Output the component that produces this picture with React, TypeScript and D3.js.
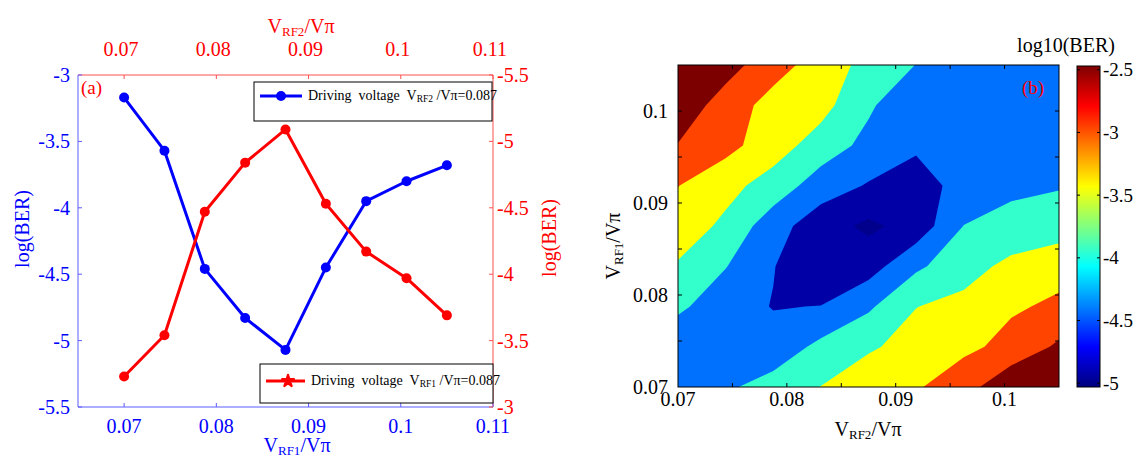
import React from "react";
import * as d3 from "d3";

const W = 1134;
const H = 459;
const FONT = "'Liberation Serif', 'DejaVu Serif', 'Times New Roman', serif";

// ---- (a) BER versus driving voltage ----
const sweepV = [0.07, 0.074375, 0.07875, 0.083125, 0.0875, 0.091875, 0.09625, 0.100625, 0.105];
// sweep of V_RF1 with V_RF2/Vπ = 0.087 (blue, bottom + left axes)
const berVsRf1 = [-3.17, -3.57, -4.46, -4.83, -5.07, -4.45, -3.95, -3.8, -3.68];
// sweep of V_RF2 with V_RF1/Vπ = 0.087 (red, top + right axes)
const berVsRf2 = [-3.23, -3.54, -4.47, -4.84, -5.09, -4.53, -4.17, -3.97, -3.69];
const xTicksA = [0.07, 0.08, 0.09, 0.1, 0.11];
const yTicksA = [-3, -3.5, -4, -4.5, -5, -5.5];

// ---- (b) log10(BER) map over (V_RF2, V_RF1) ----
const gridRf2 = [0.07, 0.074375, 0.07875, 0.083125, 0.0875, 0.091875, 0.09625, 0.100625, 0.105];
const gridRf1 = [0.07, 0.074375, 0.07875, 0.083125, 0.0875, 0.091875, 0.09625, 0.100625, 0.105];
// one row per V_RF1 value (bottom to top), one column per V_RF2 value
const berRow0 = [-4.3, -4.08, -3.79, -3.49, -3.17, -3.05, -2.72, -2.07, -1.8];
const berRow1 = [-4.38, -4.4, -4.32, -3.87, -3.57, -3.31, -3.1, -2.87, -2.41];
const berRow2 = [-3.9, -4.3, -4.52, -4.49, -4.08, -3.51, -3.36, -3.05, -2.93];
const berRow3 = [-3.55, -3.98, -4.48, -4.9, -4.72, -4.09, -3.7, -3.37, -3.13];
const berRow4 = [-3.23, -3.6, -4.3, -4.78, -5.1, -4.81, -3.99, -3.84, -3.78];
const berRow5 = [-2.99, -3.35, -3.7, -4.26, -4.54, -4.65, -4.38, -4.1, -4.03];
const berRow6 = [-2.52, -2.84, -3.28, -3.72, -4.15, -4.45, -4.35, -4.25, -4.2];
const berRow7 = [-2.2, -2.71, -3.2, -3.33, -3.92, -4.42, -4.35, -4.25, -4.2];
const berRow8 = [-1.9, -2.31, -2.78, -3.24, -3.65, -4.01, -4.2, -4.25, -4.15];
const berGrid = [berRow0, berRow1, berRow2, berRow3, berRow4, berRow5, berRow6, berRow7, berRow8];

const levels = [-5, -4.5, -4, -3.5, -3, -2.5];
const baseColor = "#00008c";
const levelColors = ["#0000a6", "#0070ff", "#33ffcc", "#ffff00", "#ff4400", "#7d0000"];
const xTicksB = [0.07, 0.08, 0.09, 0.1];
const minorTicksB = [0.075, 0.08, 0.085, 0.09, 0.095, 0.1];
const cbarTicks = [-2.5, -3, -3.5, -4, -4.5, -5];
const cbarRange = [-5.03, -2.47];

function jet(t: number): string {
  const c = (v: number) => Math.max(0, Math.min(1, v));
  const r = c(Math.min(4 * t - 1.5, -4 * t + 4.5));
  const g = c(Math.min(4 * t - 0.5, -4 * t + 3.5));
  const b = c(Math.min(4 * t + 0.5, -4 * t + 2.5));
  return d3.rgb(r * 255, g * 255, b * 255).formatHex();
}

function VLabel({ x, y, sub, fill, size = 20, rotate = false, anchor = "middle" }: any) {
  return (
    <text
      x={rotate ? 0 : x}
      y={rotate ? 0 : y}
      transform={rotate ? `translate(${x},${y}) rotate(-90)` : undefined}
      fill={fill}
      fontSize={size}
      textAnchor={anchor}
      style={{ fontFamily: FONT }}
    >
      <tspan>V</tspan>
      <tspan fontSize={size * 0.65} dy={3}>{sub}</tspan>
      <tspan dy={-3}>/Vπ</tspan>
    </text>
  );
}

export default function App() {
  // ---------- panel (a) ----------
  const aL = 78, aR = 493, aT = 75, aB = 407;
  const xA = d3.scaleLinear().domain([0.065, 0.11]).range([aL, aR]);
  const yLeft = d3.scaleLinear().domain([-5.5, -3]).range([aB, aT]);
  const yRight = d3.scaleLinear().domain([-5.5, -3]).range([aT, aB]);
  const blue = "#0000ff";
  const red = "#ff0000";
  const axBlue = "#5c5cff";
  const axRed = "#ff5050";

  const blueLine = d3.line<number>().x((_, i) => xA(sweepV[i])).y((d) => yLeft(d))(berVsRf1) || "";
  const redLine = d3.line<number>().x((_, i) => xA(sweepV[i])).y((d) => yRight(d))(berVsRf2) || "";

  // ---------- panel (b) ----------
  const bL = 678, bR = 1059, bT = 65, bB = 387;
  const xB = d3.scaleLinear().domain([0.07, 0.105]).range([bL, bR]);
  const yB = d3.scaleLinear().domain([0.07, 0.105]).range([bB, bT]);
  const n = gridRf2.length;
  const m = gridRf1.length;
  const flat = berGrid.flat();
  const contours = d3.contours().size([n, m]).thresholds(levels)(flat);
  const idxToRf2 = d3.scaleLinear().domain([0.5, n - 0.5]).range([gridRf2[0], gridRf2[n - 1]]);
  const idxToRf1 = d3.scaleLinear().domain([0.5, m - 0.5]).range([gridRf1[0], gridRf1[m - 1]]);
  const proj = d3.geoTransform({
    point: function (this: any, gx: number, gy: number) {
      this.stream.point(xB(idxToRf2(gx)), yB(idxToRf1(gy)));
    },
  });
  const geo = d3.geoPath(proj);

  // colour bar
  const cbL = 1077, cbW = 23, cbT = 66, cbB = 387;
  const yCb = d3.scaleLinear().domain(cbarRange).range([cbB, cbT]);
  const stops = d3.range(0, 65).map((k) => k / 64);

  const tick = 4;

  return (
    <svg
      width={W}
      height={H}
      viewBox={`0 0 ${W} ${H}`}
      style={{ position: "absolute", left: 0, top: 0, background: "#fff", fontFamily: FONT }}
    >
      <defs>
        <clipPath id="plotB">
          <rect x={bL} y={bT} width={bR - bL} height={bB - bT} />
        </clipPath>
        <linearGradient id="jetBar" x1="0" y1="1" x2="0" y2="0">
          {stops.map((t) => (
            <stop key={t} offset={t} stopColor={jet(t)} />
          ))}
        </linearGradient>
      </defs>

      {/* ================= (a) ================= */}
      <g>
        {/* axes frame */}
        <line x1={aL} y1={aT} x2={aR} y2={aT} stroke={axRed} strokeWidth={1} />
        <line x1={aR} y1={aT} x2={aR} y2={aB} stroke={axRed} strokeWidth={1} />
        <line x1={aL} y1={aT} x2={aL} y2={aB} stroke={axBlue} strokeWidth={1} />
        <line x1={aL} y1={aB} x2={aR} y2={aB} stroke={axBlue} strokeWidth={1} />

        {/* bottom (V_RF1) and top (V_RF2) ticks */}
        {xTicksA.map((v) => (
          <g key={`xa${v}`}>
            <line x1={xA(v)} x2={xA(v)} y1={aB} y2={aB - tick} stroke={axBlue} />
            <text x={xA(v)} y={433} fill={blue} fontSize={20} textAnchor="middle">
              {String(v)}
            </text>
            <line x1={xA(v)} x2={xA(v)} y1={aT} y2={aT + tick} stroke={axRed} />
            <text x={xA(v) - 3} y={56} fill={red} fontSize={20} textAnchor="middle">
              {String(v)}
            </text>
          </g>
        ))}

        {/* left and right y ticks */}
        {yTicksA.map((v) => (
          <g key={`ya${v}`}>
            <line x1={aL} x2={aL + tick} y1={yLeft(v)} y2={yLeft(v)} stroke={axBlue} />
            <text x={70} y={yLeft(v)} dy="0.35em" fill={blue} fontSize={20} textAnchor="end">
              {String(v)}
            </text>
            <line x1={aR} x2={aR - tick} y1={yRight(v)} y2={yRight(v)} stroke={axRed} />
            <text x={497} y={yRight(v)} dy="0.35em" fill={red} fontSize={20} textAnchor="start">
              {String(v)}
            </text>
          </g>
        ))}

        {/* axis titles */}
        <text transform="translate(22,229) rotate(-90)" dy="0.35em" fill={blue} fontSize={20} textAnchor="middle">
          log(BER)
        </text>
        <text transform="translate(549,238) rotate(-90)" dy="0.35em" fill={red} fontSize={20} textAnchor="middle">
          log(BER)
        </text>
        <VLabel x={297} y={452} sub="RF1" fill={blue} />
        <VLabel x={301} y={33} sub="RF2" fill={red} />

        <text x={81} y={94} fill={red} fontSize={19}>
          (a)
        </text>

        {/* series */}
        <path d={blueLine} fill="none" stroke={blue} strokeWidth={3} strokeLinejoin="round" />
        {berVsRf1.map((v, i) => (
          <circle key={`bp${i}`} cx={xA(sweepV[i])} cy={yLeft(v)} r={5} fill={blue} />
        ))}
        <path d={redLine} fill="none" stroke={red} strokeWidth={3} strokeLinejoin="round" />
        {berVsRf2.map((v, i) => (
          <circle key={`rp${i}`} cx={xA(sweepV[i])} cy={yRight(v)} r={5} fill={red} />
        ))}

        {/* legends */}
        <g>
          <rect x={254} y={82} width={238} height={39} fill="#fff" stroke="#000" strokeWidth={1} />
          <line x1={260} x2={302} y1={96} y2={96} stroke={blue} strokeWidth={3} />
          <circle cx={281} cy={96} r={5} fill={blue} />
          <text x={308} y={100} fontSize={14} fill="#000" style={{ whiteSpace: "pre" }}>
            <tspan>{"Driving  voltage  V"}</tspan>
            <tspan fontSize={9.5} dy={2}>RF2</tspan>
            <tspan dy={-2}>{" /Vπ=0.087"}</tspan>
          </text>
        </g>
        <g>
          <rect x={260} y={364} width={233} height={39} fill="#fff" stroke="#000" strokeWidth={1} />
          <line x1={266} x2={305} y1={381} y2={381} stroke={red} strokeWidth={3} />
          <path
            d={d3.symbol().type(d3.symbolStar).size(45)() || ""}
            transform="translate(288,381)"
            fill={red}
            stroke={red}
            strokeWidth={2}
            strokeLinejoin="round"
          />
          <text x={311} y={385} fontSize={14} fill="#000" style={{ whiteSpace: "pre" }}>
            <tspan>{"Driving  voltage  V"}</tspan>
            <tspan fontSize={9.5} dy={2}>RF1</tspan>
            <tspan dy={-2}>{" /Vπ=0.087"}</tspan>
          </text>
        </g>
      </g>

      {/* ================= (b) ================= */}
      <g>
        <g clipPath="url(#plotB)">
          <rect x={bL} y={bT} width={bR - bL} height={bB - bT} fill={baseColor} />
          {contours.map((c, k) => (
            <path key={`c${k}`} d={geo(c as any) || ""} fill={levelColors[k]} stroke="none" />
          ))}
        </g>
        <rect x={bL} y={bT} width={bR - bL} height={bB - bT} fill="none" stroke="#000" strokeWidth={1} />

        {minorTicksB.map((v) => (
          <g key={`mt${v}`} stroke="#000" strokeWidth={1}>
            <line x1={xB(v)} x2={xB(v)} y1={bB} y2={bB - tick} />
            <line x1={xB(v)} x2={xB(v)} y1={bT} y2={bT + tick} />
            <line x1={bL} x2={bL + tick} y1={yB(v)} y2={yB(v)} />
            <line x1={bR} x2={bR - tick} y1={yB(v)} y2={yB(v)} />
          </g>
        ))}
        {xTicksB.map((v) => (
          <g key={`lb${v}`}>
            <text x={xB(v)} y={406} fontSize={20} fill="#000" textAnchor="middle">
              {String(v)}
            </text>
            <text x={668} y={yB(v)} dy="0.35em" fontSize={20} fill="#000" textAnchor="end">
              {String(v)}
            </text>
          </g>
        ))}
        <VLabel x={868} y={436} sub="RF2" fill="#000" />
        <VLabel x={620} y={246} sub="RF1" fill="#000" rotate />

        <text x={1022} y={94} fill={red} fontSize={19}>
          (b)
        </text>

        {/* colour bar */}
        <rect x={cbL} y={cbT} width={cbW} height={cbB - cbT} fill="url(#jetBar)" stroke="#000" strokeWidth={1} />
        {cbarTicks.map((v) => (
          <g key={`cb${v}`}>
            <line x1={cbL + cbW} x2={cbL + cbW - 3} y1={yCb(v)} y2={yCb(v)} stroke="#000" />
            <line x1={cbL} x2={cbL + 3} y1={yCb(v)} y2={yCb(v)} stroke="#000" />
            <text x={1103} y={yCb(v)} dy="0.35em" fontSize={19} fill="#000">
              {String(v)}
            </text>
          </g>
        ))}
        <text x={1066} y={52} fontSize={20} fill="#000" textAnchor="middle">
          log10(BER)
        </text>
      </g>
    </svg>
  );
}
